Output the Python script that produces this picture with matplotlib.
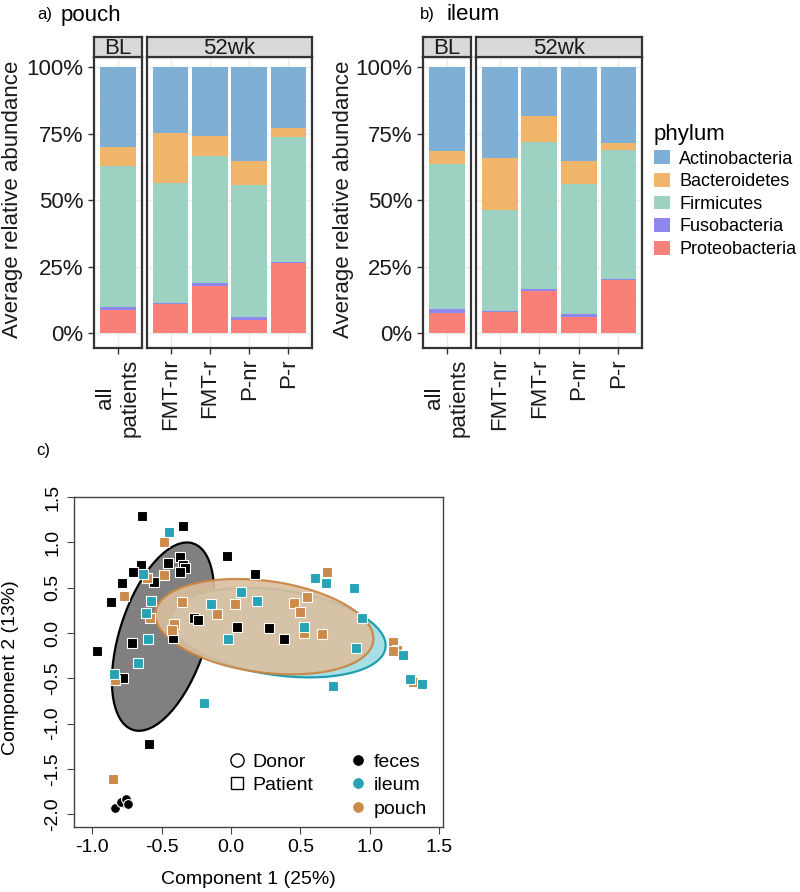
import matplotlib.pyplot as plt
from matplotlib.patches import Ellipse
from matplotlib.lines import Line2D

plt.rcParams['font.family'] = ['Liberation Sans', 'DejaVu Sans']
plt.rcParams['axes.unicode_minus'] = False

# ---- bar chart data (percent), order: all patients, FMT-nr, FMT-r, P-nr, P-r
phyla = ['Actinobacteria', 'Bacteroidetes', 'Firmicutes', 'Fusobacteria', 'Proteobacteria']
phylum_colors = ['#7fafd4', '#f0b56b', '#9dd2c3', '#8e87ec', '#f98078']
groups_bl = ['all\npatients']
groups_52 = ['FMT-nr', 'FMT-r', 'P-nr', 'P-r']

pouch_actino = [30.1, 24.7, 25.8, 35.3, 22.9]
pouch_bact = [7.0, 18.9, 7.4, 8.9, 3.1]
pouch_firm = [52.9, 44.9, 48.0, 49.5, 47.1]
pouch_fuso = [1.2, 0.6, 1.0, 1.3, 0.6]
pouch_proteo = [8.8, 10.9, 17.8, 5.0, 26.3]

ileum_actino = [31.3, 33.9, 18.1, 35.3, 28.4]
ileum_bact = [5.0, 19.8, 10.0, 8.5, 2.6]
ileum_firm = [54.7, 37.9, 55.1, 48.8, 48.5]
ileum_fuso = [1.5, 0.5, 0.8, 1.2, 0.6]
ileum_proteo = [7.5, 7.9, 16.0, 6.2, 19.9]

# ---- PCA scatter data
feces_patient_x = [-0.643, -0.348, -0.031, 0.173, -0.367, -0.456, -0.348, -0.331, -0.367, -0.651,
                   -0.704, -0.553, -0.788, -0.862, -0.264, -0.24, 0.046, 0.276, 0.38, -0.42,
                   -0.715, -0.968, -0.776, -0.591]
feces_patient_y = [1.29, 1.18, 0.853, 0.651, 0.842, 0.776, 0.747, 0.717, 0.673, 0.747,
                   0.67, 0.566, 0.548, 0.339, 0.162, 0.143, 0.063, 0.052, -0.063, -0.059,
                   -0.114, -0.199, -0.5, -1.222]
feces_donor_x = [-0.836, -0.771, -0.795, -0.756, -0.74]
feces_donor_y = [-1.935, -1.88, -1.862, -1.836, -1.887]
ileum_patient_x = [-0.444, -0.632, -0.579, -0.615, -0.6, -0.672, -0.843, 0.07, 0.19, -0.146,
                   -0.024, 0.526, 0.607, 0.687, 0.886, 0.941, 0.898, 0.737, 1.237, 1.29,
                   1.374, -0.195]
ileum_patient_y = [1.118, 0.651, 0.357, 0.224, -0.07, -0.335, -0.453, 0.449, 0.357, 0.316,
                   -0.063, 0.063, 0.604, 0.556, 0.493, 0.162, -0.162, -0.581, -0.243, -0.508,
                   -0.563, -0.776]
pouch_patient_x = [-0.48, -0.607, -0.483, -0.771, -0.584, -0.351, -0.103, 0.031, -0.408, -0.423,
                   0.452, 0.548, 0.5, 0.526, 0.658, 0.694, 1.169, 1.198, 1.165, 1.313,
                   -0.836, -0.852]
pouch_patient_y = [1.008, 0.603, 0.64, 0.412, 0.162, 0.339, 0.213, 0.316, 0.099, 0.033,
                   0.331, 0.401, 0.228, -0.004, -0.011, 0.677, -0.096, -0.188, -0.199, -0.537,
                   -0.519, -1.608]

# ellipse parameters (center x, center y, width, height, angle)
feces_ellipse = (-0.49, -0.04, 2.11, 0.64, 79.6)
ileum_ellipse = (0.342, 0.005, 1.584, 0.924, 164.0)
pouch_ellipse = (0.24, 0.07, 1.609, 0.996, 164.3)

site_colors = {'feces': '#000000', 'ileum': '#26a3b5', 'pouch': '#cc8a4b'}

W, H = 800, 892
fig = plt.figure(figsize=(W / 100, H / 100), dpi=100)


def px_rect(x0, y0, x1, y1):
    return [x0 / W, 1 - y1 / H, (x1 - x0) / W, (y1 - y0) / H]


def style_panel(ax):
    ax.set_ylim(-5.5, 103.9)
    ax.set_yticks([0, 25, 50, 75, 100])
    ax.set_yticks([12.5, 37.5, 62.5, 87.5], minor=True)
    ax.grid(True, which='major', color='#ebebeb', lw=1.0)
    ax.grid(True, which='minor', axis='y', color='#f3f3f3', lw=0.6)
    ax.set_axisbelow(True)
    for sp in ax.spines.values():
        sp.set_color('#333333')
        sp.set_linewidth(1.6)
    ax.tick_params(axis='both', which='major', length=4, color='#333333',
                   labelsize=16, labelcolor='#1a1a1a', width=1)
    ax.tick_params(axis='y', which='minor', length=0)


def strip(rect, label):
    s = fig.add_axes(rect)
    s.set_facecolor('#d9d9d9')
    s.set_xticks([])
    s.set_yticks([])
    for sp in s.spines.values():
        sp.set_color('#333333')
        sp.set_linewidth(1.6)
    s.text(0.5, 0.45, label, transform=s.transAxes, ha='center', va='center',
           fontsize=16, color='#1a1a1a')


def draw_site(stack, x_bl, x_52, ylab_x, letter, title, letter_x, title_x):
    # stack: list of phylum series in phyla order; stacked bottom = last
    handles = []
    for ax_rect, idx, labels, xlim in [
        (px_rect(x_bl[0], 57, x_bl[1], 348), [0], groups_bl, (0.4, 1.6)),
        (px_rect(x_52[0], 57, x_52[1], 348), [1, 2, 3, 4], groups_52, (0.4, 4.6)),
    ]:
        ax = fig.add_axes(ax_rect)
        xs = list(range(1, len(idx) + 1))
        bottom = [0.0] * len(idx)
        handles = []
        for series, color in zip(stack[::-1], phylum_colors[::-1]):
            vals = [series[i] for i in idx]
            bc = ax.bar(xs, vals, bottom=bottom, width=0.9, color=color, lw=0)
            handles.append(bc)
            bottom = [b + v for b, v in zip(bottom, vals)]
        ax.set_xlim(*xlim)
        style_panel(ax)
        ax.set_xticks(xs)
        ax.set_xticklabels(labels, rotation=90, ha='center', va='top',
                           multialignment='center')
        if idx == [0]:
            ax.set_yticklabels(['0%', '25%', '50%', '75%', '100%'])
        else:
            ax.tick_params(axis='y', length=0, labelleft=False)
    strip(px_rect(x_bl[0], 37, x_bl[1], 57), 'BL')
    strip(px_rect(x_52[0], 37, x_52[1], 57), '52wk')
    fig.text(ylab_x / W, 1 - 199 / H, 'Average relative abundance', rotation=90,
             ha='center', va='center', fontsize=16, color='#1a1a1a')
    fig.text(letter_x / W, 1 - 15 / H, letter, ha='left', va='center', fontsize=12)
    fig.text(title_x / W, 1 - 15 / H, title, ha='left', va='center', fontsize=16)
    return handles[::-1]


draw_site([pouch_actino, pouch_bact, pouch_firm, pouch_fuso, pouch_proteo],
          (94, 142), (147, 312), 12.5, 'a)', 'pouch', 37, 61)
handles = draw_site([ileum_actino, ileum_bact, ileum_firm, ileum_fuso, ileum_proteo],
                    (423, 471), (476, 642), 343, 'b)', 'ileum', 420, 447)

fig.legend(handles, phyla, loc='upper left', bbox_to_anchor=(654 / W, 1 - 124 / H),
           frameon=False, fontsize=13, title='phylum', title_fontsize=16,
           handlelength=0.9, handleheight=0.8, handletextpad=0.5, labelspacing=0.3,
           borderpad=0, borderaxespad=0, alignment='left')

# ---- panel c: PCA
ax3 = fig.add_axes(px_rect(74, 497, 443, 827))
ax3.set_xlim(-1.131, 1.527)
ax3.set_ylim(-2.141, 1.501)

for (cx, cy, w, h, a), face, edge, alpha in [
    (feces_ellipse, '#808080', '#000000', 1.0),
    (ileum_ellipse, '#a8dfe5', '#1f9fb0', 1.0),
    (pouch_ellipse, '#dcbf9f', '#c8843f', 0.9),
]:
    ax3.add_patch(Ellipse((cx, cy), w, h, angle=a, facecolor=face, edgecolor=edge,
                          lw=1.6, alpha=alpha, zorder=1))

ms = 45
ax3.scatter(feces_patient_x, feces_patient_y, s=ms, marker='s', c=site_colors['feces'],
            edgecolors='white', linewidths=0.8, zorder=3)
ax3.scatter(feces_donor_x, feces_donor_y, s=50, marker='o', c=site_colors['feces'],
            edgecolors='white', linewidths=0.8, zorder=3)
ax3.scatter(pouch_patient_x, pouch_patient_y, s=ms, marker='s', c=site_colors['pouch'],
            edgecolors='white', linewidths=0.8, zorder=3)
ax3.scatter(ileum_patient_x, ileum_patient_y, s=ms, marker='s', c=site_colors['ileum'],
            edgecolors='white', linewidths=0.8, zorder=3)

xt = [-1.0, -0.5, 0.0, 0.5, 1.0, 1.5]
yt = [-2.0, -1.5, -1.0, -0.5, 0.0, 0.5, 1.0, 1.5]
ax3.set_xticks(xt)
ax3.set_xticklabels([f'{v:.1f}' for v in xt])
ax3.set_yticks(yt)
ax3.set_yticklabels([f'{v:.1f}' for v in yt], rotation=90, va='center')
ax3.tick_params(length=5, color='#444444', labelsize=14, pad=4)
for sp in ax3.spines.values():
    sp.set_color('#444444')
    sp.set_linewidth(1.0)

fig.text(248 / W, 1 - 880 / H, 'Component 1 (25%)', ha='center', va='center', fontsize=14)
fig.text(11 / W, 1 - 668 / H, 'Component 2 (13%)', ha='center', va='center',
         fontsize=14, rotation=90)
fig.text(36 / W, 1 - 450 / H, 'c)', ha='left', va='center', fontsize=12)

h1 = [Line2D([], [], marker='o', ls='', mfc='white', mec='black', ms=9.5, mew=1),
      Line2D([], [], marker='s', ls='', mfc='white', mec='black', ms=9, mew=1)]
leg1 = ax3.legend(h1, ['Donor', 'Patient'], loc='upper left',
                  bbox_to_anchor=(230 / W, 1 - 753 / H), bbox_transform=fig.transFigure,
                  frameon=False, fontsize=14, handlelength=0.7, handletextpad=0.45,
                  labelspacing=0.3, borderpad=0, borderaxespad=0)
ax3.add_artist(leg1)
h2 = [Line2D([], [], marker='o', ls='', mfc=site_colors[k], mec='white', ms=8.5, mew=0.8)
      for k in ['feces', 'ileum', 'pouch']]
ax3.legend(h2, ['feces', 'ileum', 'pouch'], loc='upper left',
           bbox_to_anchor=(351 / W, 1 - 753 / H), bbox_transform=fig.transFigure,
           frameon=False, fontsize=14, handlelength=0.7, handletextpad=0.45,
           labelspacing=0.3, borderpad=0, borderaxespad=0)

fig.savefig('out.png', dpi=100)
